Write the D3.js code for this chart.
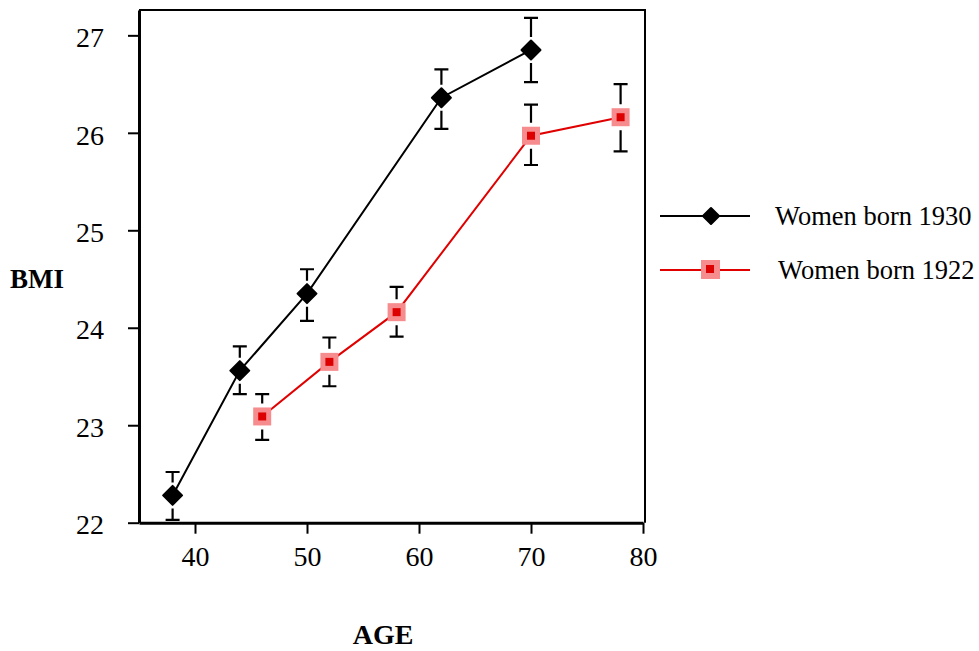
<!DOCTYPE html>
<html>
<head>
<meta charset="utf-8">
<script src="https://cdn.jsdelivr.net/npm/d3@7"></script>
<style>
  body { margin: 0; background: #fff; }
  text { font-family: "Liberation Serif", "Times New Roman", serif; }
</style>
</head>
<body>
<div id="chart"></div>
<script>
// data
const ages1930 = [38, 44, 50, 62, 70];
const bmi1930 = [22.28, 23.56, 24.35, 26.36, 26.85];
const lo1930 = [22.03, 23.32, 24.07, 26.04, 26.52];
const hi1930 = [22.52, 23.81, 24.60, 26.65, 27.18];

const ages1922 = [46, 52, 58, 70, 78];
const bmi1922 = [23.09, 23.65, 24.16, 25.97, 26.16];
const lo1922 = [22.85, 23.40, 23.91, 25.67, 25.81];
const hi1922 = [23.32, 23.90, 24.42, 26.29, 26.50];

const xTicks = [40, 50, 60, 70, 80];
const yTicks = [22, 23, 24, 25, 26, 27];
const seriesNames = ["Women born 1930", "Women born 1922"];

const width = 979, height = 651;
const svg = d3.select("#chart").append("svg")
    .attr("width", width).attr("height", height);

const x = d3.scaleLinear().domain([35, 80]).range([139, 643]);
const y = d3.scaleLinear().domain([22, 27.26]).range([522.7, 10]);

// frame (top and right)
svg.append("path")
    .attr("d", `M${x(35)},${y(27.26)}H${645}V${y(22)}`)
    .attr("fill", "none").attr("stroke", "#000").attr("stroke-width", 2);

const xAxis = svg.append("g")
    .attr("transform", `translate(0,${y(22)})`)
    .call(d3.axisBottom(x).tickValues(xTicks).tickFormat(d3.format("d"))
        .tickSize(11).tickSizeOuter(0));
const yAxis = svg.append("g")
    .attr("transform", `translate(${x(35)},0)`)
    .call(d3.axisLeft(y).tickValues(yTicks).tickFormat(d3.format("d"))
        .tickSize(11).tickSizeOuter(0));

[xAxis, yAxis].forEach(a => {
  a.attr("font-family", null).attr("font-size", null);
  a.select(".domain").attr("stroke-width", 3);
  a.selectAll(".tick line").attr("stroke-width", 2);
  a.selectAll(".tick text").attr("font-size", 28).attr("fill", "#000");
});
xAxis.selectAll(".tick text").attr("y", 43).attr("dy", null);
yAxis.selectAll(".tick text").attr("x", -35).attr("dy", "0.4em");

svg.append("text").attr("x", 10).attr("y", 288)
    .attr("font-size", 27).attr("font-weight", "bold").text("BMI");
svg.append("text").attr("x", 383).attr("y", 644)
    .attr("text-anchor", "middle")
    .attr("font-size", 28).attr("font-weight", "bold").text("AGE");

function drawSeries(ages, vals, lo, hi, color, gap) {
  const g = svg.append("g");
  const line = d3.line().x((d, i) => x(ages[i])).y(d => y(d));
  g.append("path").datum(vals).attr("d", line)
      .attr("fill", "none").attr("stroke", color).attr("stroke-width", 2);

  const eb = g.selectAll(".eb").data(vals).enter().append("g");
  eb.append("path")
      .attr("d", (d, i) => {
        const cx = x(ages[i]), cy = y(d), t = y(hi[i]), b = y(lo[i]);
        return `M${cx},${t}V${cy - gap}M${cx},${cy + gap}V${b}` +
               `M${cx - 7},${t}H${cx + 7}M${cx - 7},${b}H${cx + 7}`;
      })
      .attr("fill", "none").attr("stroke", "#000").attr("stroke-width", 2.2);
  return g;
}

const g1 = drawSeries(ages1930, bmi1930, lo1930, hi1930, "#000", 13);
g1.selectAll(".m").data(bmi1930).enter().append("path")
    .attr("d", d3.symbol(d3.symbolSquare, 180))
    .attr("transform", (d, i) => `translate(${x(ages1930[i])},${y(d)}) rotate(45)`)
    .attr("fill", "#000").attr("stroke", "#000").attr("stroke-width", 2)
    .attr("stroke-linejoin", "round");

const g2 = drawSeries(ages1922, bmi1922, lo1922, hi1922, "#e00000", 13);
g2.selectAll(".m").data(bmi1922).enter().append("rect")
    .attr("x", (d, i) => x(ages1922[i]) - 9).attr("y", d => y(d) - 9)
    .attr("width", 18).attr("height", 18).attr("fill", "#f78c8e");
g2.selectAll(".mi").data(bmi1922).enter().append("rect")
    .attr("x", (d, i) => x(ages1922[i]) - 4).attr("y", d => y(d) - 4)
    .attr("width", 8).attr("height", 8).attr("fill", "#dd0000");

// legend
const legend = svg.append("g");
const ly = [216, 270], lx = [775, 778];
seriesNames.forEach((name, i) => {
  const color = i === 0 ? "#000" : "#e00000";
  legend.append("line").attr("x1", 660).attr("x2", 750)
      .attr("y1", ly[i]).attr("y2", ly[i])
      .attr("stroke", color).attr("stroke-width", 2);
  if (i === 0) {
    legend.append("path").attr("d", d3.symbol(d3.symbolSquare, 130))
        .attr("transform", `translate(711,${ly[i]}) rotate(45)`)
        .attr("fill", "#000").attr("stroke", "#000").attr("stroke-width", 2)
        .attr("stroke-linejoin", "round");
  } else {
    legend.append("rect").attr("x", 701).attr("y", ly[i] - 10)
        .attr("width", 19).attr("height", 19).attr("fill", "#f78c8e");
    legend.append("rect").attr("x", 706).attr("y", ly[i] - 5)
        .attr("width", 8).attr("height", 8).attr("fill", "#dd0000");
  }
  legend.append("text").attr("x", lx[i]).attr("y", ly[i] + 9)
      .attr("font-size", 26.5).text(name);
});
</script>
</body>
</html>
